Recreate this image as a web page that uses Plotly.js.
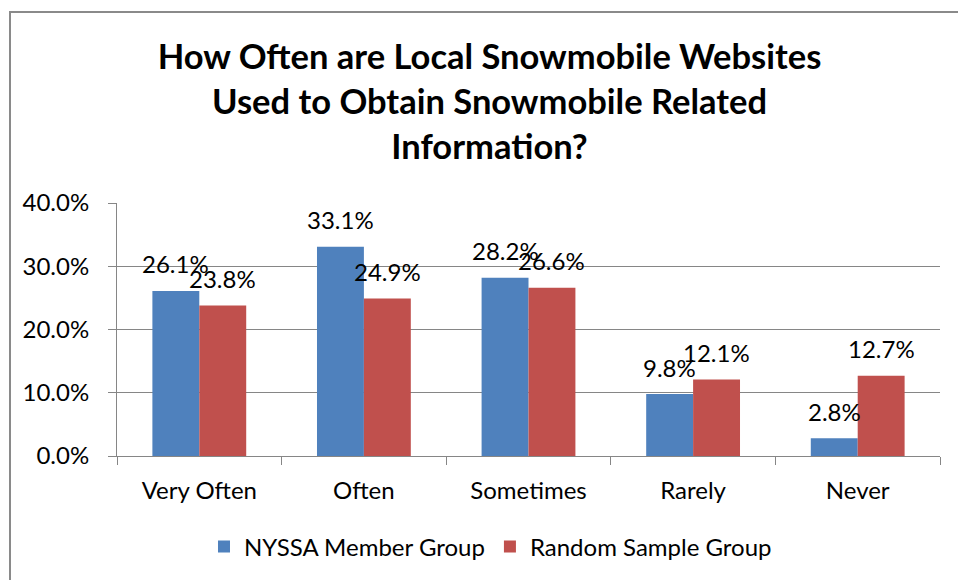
<!DOCTYPE html>
<html>
<head>
<meta charset="utf-8">
<script src="https://cdn.plot.ly/plotly-3.0.1.min.js"></script>
<style>
html,body{margin:0;padding:0;background:#fff;overflow:hidden;}
#wrap{position:relative;width:958px;height:580px;}
#chart{position:absolute;left:0;top:0;width:958px;height:580px;}
#frame{position:absolute;left:9px;top:11px;width:1000px;height:1000px;border:2px solid #8a8a8a;pointer-events:none;box-sizing:border-box;}
</style>
</head>
<body>
<div id="wrap"><div id="chart"></div><div id="frame"></div></div>
<script>
const categories = ["Very Often", "Often", "Sometimes", "Rarely", "Never"];
const seriesNames = ["NYSSA Member Group", "Random Sample Group"];
const nyssaValues = [26.1, 33.1, 28.2, 9.8, 2.8];
const randomValues = [23.8, 24.9, 26.6, 12.1, 12.7];
const yTickValues = [0, 10, 20, 30, 40];
const yTickLabels = ["0.0%", "10.0%", "20.0%", "30.0%", "40.0%"];
const colors = ["#4F81BD", "#C0504D"];

const FONT = "Lato, 'Open Sans', sans-serif";
const FS = 24;
const bargap = 0.43;
const barW = (1 - bargap) / 2;

const traces = [
  {type: "bar", name: seriesNames[0], x: categories, y: nyssaValues,
   marker: {color: colors[0]}, hoverinfo: "skip"},
  {type: "bar", name: seriesNames[1], x: categories, y: randomValues,
   marker: {color: colors[1]}, hoverinfo: "skip"}
];

const annotations = [];
[nyssaValues, randomValues].forEach((vals, s) => {
  vals.forEach((v, i) => {
    annotations.push({
      x: i + (s === 0 ? -barW / 2 : barW / 2), xref: "x",
      y: v, yref: "y",
      text: v.toFixed(1) + "%",
      showarrow: false, yanchor: "middle", yshift: 27,
      font: {family: FONT, size: FS, color: "#000"}
    });
  });
});

const layout = {
  width: 958, height: 580,
  margin: {l: 117, r: 18, t: 203, b: 124},
  paper_bgcolor: "#fff", plot_bgcolor: "#fff",
  barmode: "group", bargap: bargap, bargroupgap: 0,
  font: {family: FONT, size: FS, color: "#000"},
  title: {
    text: "<b>How Often are Local Snowmobile Websites<br>Used to Obtain Snowmobile Related<br>Information?</b>",
    font: {family: FONT, size: 34.5, color: "#000"},
    x: 0.511, xref: "container", xanchor: "center",
    y: 1 - 69 / 580, yref: "container", yanchor: "middle"
  },
  xaxis: {
    type: "category",
    showline: true, linecolor: "#868686", linewidth: 1,
    ticks: "outside", tickson: "boundaries", ticklen: 8, tickcolor: "#868686",
    showgrid: false,
    tickfont: {family: FONT, size: FS, color: "#000"},
    ticklabelstandoff: 13
  },
  yaxis: {
    range: [0, 40], tickmode: "array", tickvals: yTickValues, ticktext: yTickLabels,
    showline: true, linecolor: "#868686", linewidth: 1,
    ticks: "outside", ticklen: 8, tickcolor: "#868686",
    showgrid: true, gridcolor: "#868686", gridwidth: 1,
    zeroline: false,
    tickfont: {family: FONT, size: FS, color: "#000"},
    ticklabelstandoff: 14
  },
  legend: {
    orientation: "h",
    xref: "container", x: 0.512, xanchor: "center",
    yref: "container", y: 1 - 547 / 580, yanchor: "middle",
    font: {family: FONT, size: FS, color: "#000"},
    itemclick: false, itemdoubleclick: false
  },
  annotations: annotations,
  showlegend: true
};

Plotly.newPlot("chart", traces, layout, {displayModeBar: false, staticPlot: true});
</script>
</body>
</html>
